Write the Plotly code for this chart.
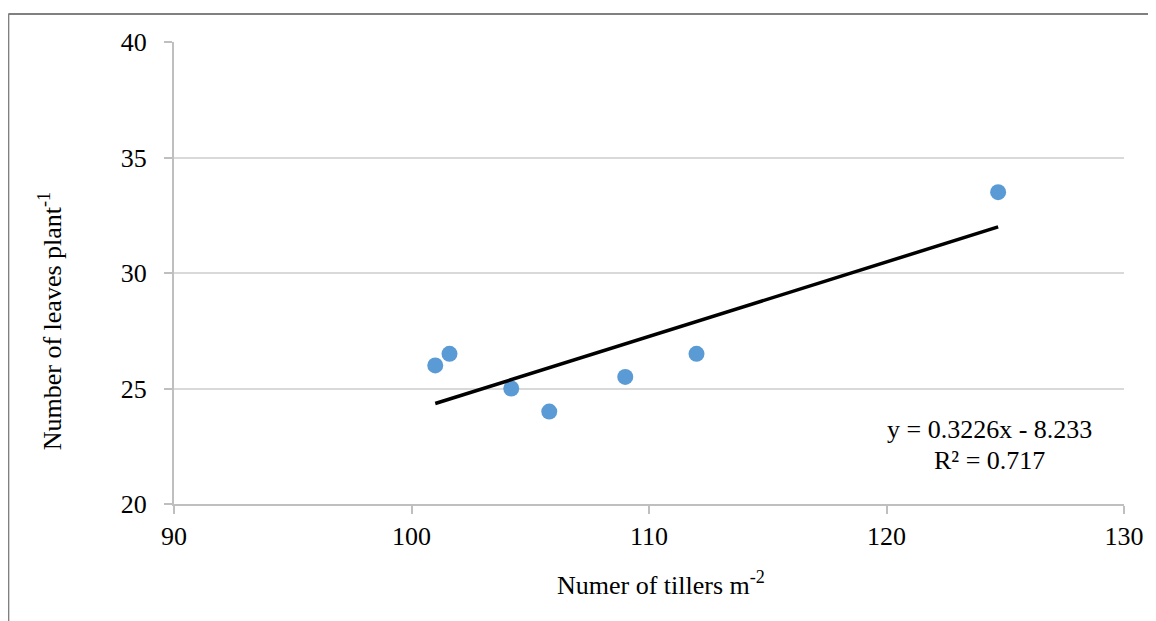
import plotly.graph_objects as go
import numpy as np

tillers = [101.0, 101.6, 104.2, 105.8, 109.0, 112.0, 124.7]
leaves = [26.0, 26.5, 25.0, 24.0, 25.5, 26.5, 33.5]
slope = 0.3226
intercept = -8.233
r2 = 0.717
x_ticks = [90, 100, 110, 120, 130]
y_ticks = [20, 25, 30, 35, 40]

FONT = "Liberation Serif"
OFF = 8  # default page body margin
W, H = 1156 - OFF, 621 - OFF
L, R, T, B = 174 - OFF, 1126 - OFF, 42 - OFF, 504 - OFF

def px(xp):
    return (xp - OFF - L) / (R - L)

def py(yp):
    return (B - (yp - OFF)) / (B - T)

tx = np.array([min(tillers), max(tillers)])
ty = slope * tx + intercept

fig = go.Figure()
fig.add_trace(go.Scatter(x=tillers, y=leaves, mode="markers",
                         marker=dict(color="#5B9BD5", size=16), showlegend=False))
fig.add_trace(go.Scatter(x=tx, y=ty, mode="lines",
                         line=dict(color="black", width=3.5), showlegend=False))

fig.update_layout(
    width=W, height=H,
    margin=dict(l=L, r=W - R, t=T, b=H - B),
    paper_bgcolor="white", plot_bgcolor="white",
    font=dict(family=FONT, size=26, color="black"),
    xaxis=dict(range=[90, 130], tickvals=x_ticks, showgrid=False, zeroline=False,
               showline=True, linecolor="#BFBFBF", linewidth=2,
               ticks="outside", ticklen=8, tickcolor="#BFBFBF", tickwidth=2,
               ticklabelstandoff=0, tickfont=dict(family=FONT, size=26)),
    yaxis=dict(range=[20, 40], tickvals=y_ticks, showgrid=True, gridcolor="#D9D9D9",
               gridwidth=2, zeroline=False,
               showline=True, linecolor="#BFBFBF", linewidth=2,
               ticks="outside", ticklen=8, tickcolor="#BFBFBF", tickwidth=2,
               ticklabelstandoff=12, tickfont=dict(family=FONT, size=26)),
)

fig.add_annotation(text="Numer of tillers m<sup>-2</sup>", xref="paper", yref="paper",
                   x=px(662), y=py(583), xanchor="center", yanchor="middle",
                   showarrow=False, font=dict(family=FONT, size=26))
fig.add_annotation(text="Number of leaves plant<sup>-1</sup>", xref="paper", yref="paper",
                   x=px(50), y=py(321), xanchor="center", yanchor="middle", textangle=-90,
                   showarrow=False, font=dict(family=FONT, size=26))
fig.add_annotation(text=f"y = {slope}x - {abs(intercept)}", xref="paper", yref="paper",
                   x=px(991), y=py(429), xanchor="center", yanchor="middle",
                   showarrow=False, font=dict(family=FONT, size=26))
fig.add_annotation(text=f"R² = {r2}", xref="paper", yref="paper",
                   x=px(991), y=py(460), xanchor="center", yanchor="middle",
                   showarrow=False, font=dict(family=FONT, size=26))

# outer frame (left and top only)
fig.add_shape(type="line", xref="paper", yref="paper", x0=px(8), x1=px(8), y0=py(14), y1=py(640),
              line=dict(color="#808080", width=2))
fig.add_shape(type="line", xref="paper", yref="paper", x0=px(8), x1=px(1180), y0=py(14), y1=py(14),
              line=dict(color="#808080", width=2))

fig.write_html("out.html")
